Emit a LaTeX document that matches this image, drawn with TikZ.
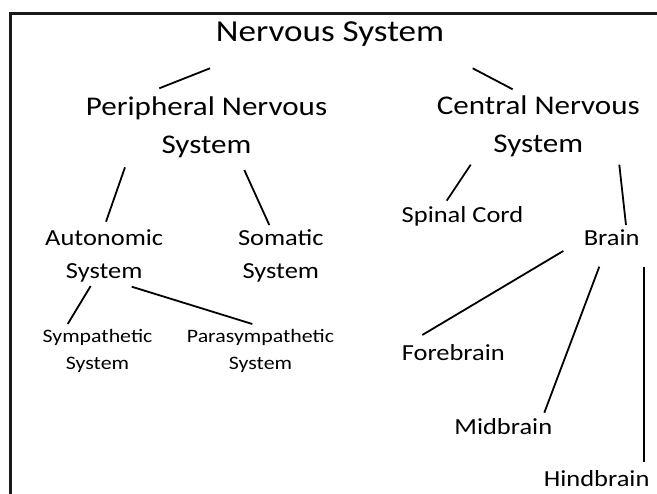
\documentclass[tikz,border=0pt]{standalone}
\usepackage{fontspec}
\setmainfont[FakeStretch=1.15]{Carlito}
\usetikzlibrary{calc}
\tikzset{
  lbl/.style={inner sep=0pt, anchor=base, align=center, text=black},
  lvlA/.style={lbl, font=\fontsize{30.5}{36}\selectfont},
  lvlB/.style={lbl, font=\fontsize{27}{37.4}\selectfont},
  lvlC/.style={lbl, font=\fontsize{23}{32.6}\selectfont},
  lvlD/.style={lbl, font=\fontsize{19}{27.7}\selectfont},
  conn/.style={draw=black, line width=1.8pt},
  frame/.style={draw=black!90, line width=3pt}
}
\begin{document}
\begin{tikzpicture}[x=1pt,y=-1pt]
\useasboundingbox (0,0) rectangle (657,494);
\clip (0,0) rectangle (657,494);
\fill[white] (0,0) rectangle (657,494);
\draw[frame] (10,494) -- (10,14) -- (657,14);

% base anchor = baseline of the last line
\node[lvlA] (ns)   at (330,42)      {Nervous System};
\node[lvlB] (pns)  at (206.5,153.1) {Peripheral Nervous\\System};
\node[lvlB] (cns)  at (538.3,152.4) {Central Nervous\\System};
\node[lvlC] (aut)  at (104.2,278.3) {Autonomic\\System};
\node[lvlC] (som)  at (280.8,278.3) {Somatic\\System};
\node[lvlD] (sym)  at (97.5,370)    {Sympathetic\\System};
\node[lvlD] (par)  at (260.5,370)   {Parasympathetic\\System};
\node[lvlC] (spi)  at (462.5,222.3) {Spinal Cord};
\node[lvlC] (bra)  at (611.7,245.7) {Brain};
\node[lvlC] (fore) at (453.3,361)   {Forebrain};
\node[lvlC] (midb) at (503.3,434.3) {Midbrain};
\node[lvlC] (hind) at (596.7,486.7) {Hindbrain};

\draw[conn] ($(ns.base)+(-120,26.3)$) -- ($(pns.base)+(-47.2,-64.8)$);
\draw[conn] ($(ns.base)+(142.7,26.3)$) -- ($(cns.base)+(-25.6,-63.1)$);
\draw[conn] ($(pns.base)+(-81.5,14.2)$) -- ($(aut.base)+(1.8,-56.6)$);
\draw[conn] ($(pns.base)+(37.8,16.9)$) -- ($(som.base)+(-11.5,-53.3)$);
\draw[conn] ($(cns.base)+(-67.6,12.3)$) -- ($(spi.base)+(-15.8,-21.6)$);
\draw[conn] ($(cns.base)+(81,12.3)$) -- ($(bra.base)+(14.3,-20.7)$);
\draw[conn] ($(aut.base)+(-13.5,7.7)$) -- ($(sym.base)+(-29.8,-46)$);
\draw[conn] ($(aut.base)+(27.5,8.4)$) -- ($(par.base)+(-8.2,-46)$);
\draw[conn] ($(bra.base)+(-48.4,5.3)$) -- ($(fore.base)+(-31,-26)$);
\draw[conn] ($(bra.base)+(-12.4,21)$) -- ($(midb.base)+(41,-21.6)$);
\draw[conn] ($(bra.base)+(32.6,21.6)$) -- ($(hind.base)+(47.6,-24.4)$);
\end{tikzpicture}
\end{document}
